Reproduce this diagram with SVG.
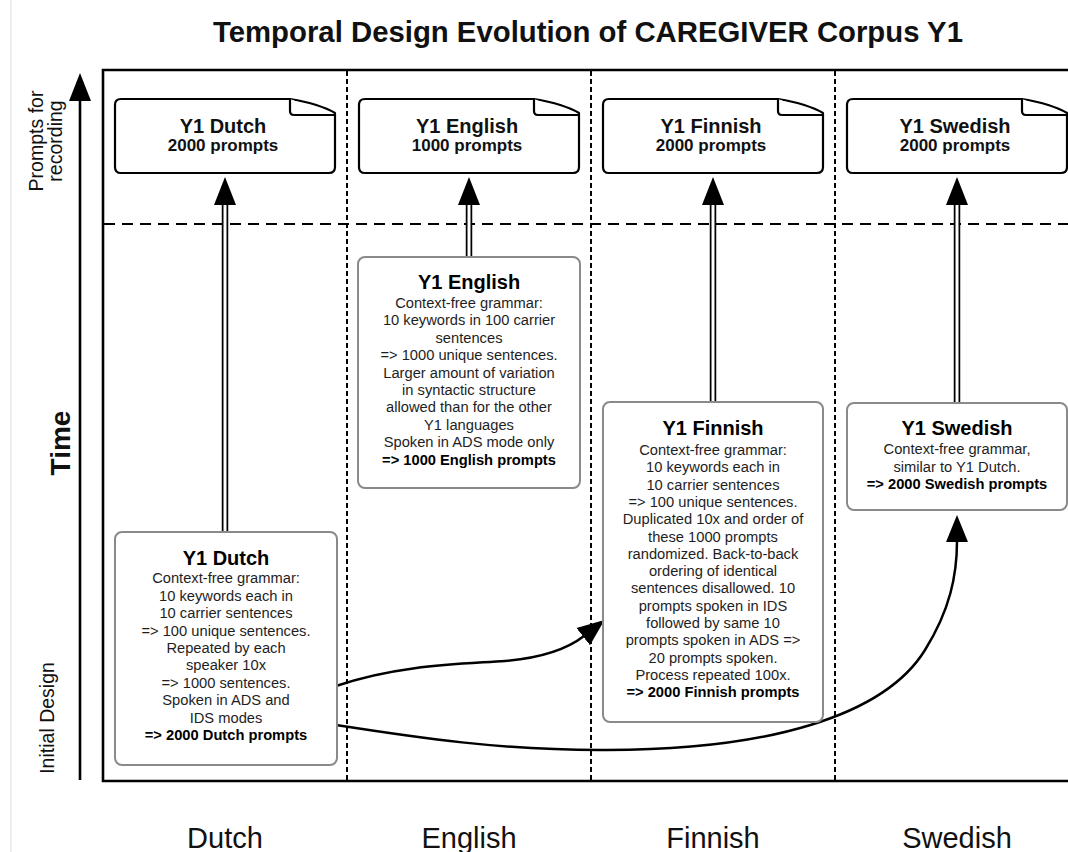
<svg xmlns="http://www.w3.org/2000/svg" width="1068" height="852" viewBox="0 0 1068 852">
<style>
text{font-family:"Liberation Sans",Arial,sans-serif;fill:#111}
.ttl{font-size:29px;font-weight:bold;text-anchor:middle}
.doc{fill:#fff;stroke:#000;stroke-width:2.2;stroke-linejoin:round}
.dt1{font-size:20px;font-weight:bold;text-anchor:middle}
.dt2{font-size:17px;font-weight:bold;text-anchor:middle}
.box{fill:#fff;stroke:#8a8a8a;stroke-width:2}
.bt{font-size:20px;font-weight:bold;text-anchor:middle;fill:#000}
.bb{font-size:14.7px;text-anchor:middle;fill:#1e1e1e}
.bbold{font-weight:bold;fill:#000}
.frame{stroke:#000;stroke-width:2.6;fill:none}
.vd{stroke:#000;stroke-width:2;stroke-dasharray:5 3;fill:none}
.hd{stroke:#000;stroke-width:2;stroke-dasharray:11 7;fill:none}
.sh-o{stroke:#000;stroke-width:6.5}
.sh-i{stroke:#fff;stroke-width:3}
.head{fill:#000}
.crv{fill:none;stroke:#000;stroke-width:2.5}
.ax{font-size:19.5px}
.col{font-size:29px;text-anchor:middle}
</style>
<defs>
<g id="docshape">
<path class="doc" d="M6,0 H175 Q205,5 220,14 V68 Q220,74 214,74 H6 Q0,74 0,68 V6 Q0,0 6,0 Z"/>
<path class="doc" d="M175,0 V12 Q175,16 179,16 H219"/>
</g>
<marker id="ah" markerUnits="userSpaceOnUse" markerWidth="28" markerHeight="24" viewBox="0 0 28 24" refX="1" refY="12" orient="auto">
<path d="M0,1 L27,12 L0,23 Z" fill="#000"/>
</marker>
</defs>
<rect width="1068" height="852" fill="#fff"/>
<line x1="11" y1="0" x2="11" y2="852" stroke="#e2e2e2" stroke-width="1.2"/>

<text class="ttl" x="588" y="42" textLength="750" lengthAdjust="spacingAndGlyphs">Temporal Design Evolution of CAREGIVER Corpus Y1</text>

<g id="grid">
<path class="frame" d="M1068,70 H103 V781 H1068"/>
<line class="vd" x1="347" y1="71" x2="347" y2="780"/>
<line class="vd" x1="591" y1="71" x2="591" y2="780"/>
<line class="vd" x1="835" y1="71" x2="835" y2="780"/>
<line class="hd" x1="104" y1="224" x2="1068" y2="224"/>
</g>

<g id="time-axis">
<line x1="80" y1="98" x2="80" y2="780" stroke="#000" stroke-width="2.6"/>
<polygon points="80,73 69,101 91,101" fill="#000"/>
<text class="ax" transform="translate(43,141) rotate(-90)" text-anchor="middle">Prompts for</text>
<text class="ax" transform="translate(62,141) rotate(-90)" text-anchor="middle">recording</text>
<text transform="translate(70,443) rotate(-90)" text-anchor="middle" style="font-size:28px;font-weight:bold">Time</text>
<text class="ax" transform="translate(54,718) rotate(-90)" text-anchor="middle">Initial Design</text>
</g>

<g id="doc-dutch">
<use href="#docshape" transform="translate(115,99)"/>
<text class="dt1" x="223" y="133">Y1 Dutch</text>
<text class="dt2" x="223" y="151">2000 prompts</text>
</g>
<g id="doc-english">
<use href="#docshape" transform="translate(359,99)"/>
<text class="dt1" x="467" y="133">Y1 English</text>
<text class="dt2" x="467" y="151">1000 prompts</text>
</g>
<g id="doc-finnish">
<use href="#docshape" transform="translate(603,99)"/>
<text class="dt1" x="711" y="133">Y1 Finnish</text>
<text class="dt2" x="711" y="151">2000 prompts</text>
</g>
<g id="doc-swedish">
<use href="#docshape" transform="translate(847,99)"/>
<text class="dt1" x="955" y="133">Y1 Swedish</text>
<text class="dt2" x="955" y="151">2000 prompts</text>
</g>

<g id="connectors">
<line class="sh-o" x1="225" y1="203" x2="225" y2="533"/>
<line class="sh-i" x1="225" y1="203" x2="225" y2="532"/>
<polygon class="head" points="225,177 214,205 236,205"/>
<line class="sh-o" x1="469" y1="203" x2="469" y2="257"/>
<line class="sh-i" x1="469" y1="203" x2="469" y2="256"/>
<polygon class="head" points="469,177 458,205 480,205"/>
<line class="sh-o" x1="713" y1="203" x2="713" y2="402"/>
<line class="sh-i" x1="713" y1="203" x2="713" y2="401"/>
<polygon class="head" points="713,177 702,205 724,205"/>
<line class="sh-o" x1="957" y1="203" x2="957" y2="403"/>
<line class="sh-i" x1="957" y1="203" x2="957" y2="402"/>
<polygon class="head" points="957,177 946,205 968,205"/>
<path class="crv" marker-end="url(#ah)" d="M336,686 C 400,664 465,664 505,661 C 540,658 566,650 584,636"/>
<path class="crv" marker-end="url(#ah)" d="M336,725 C 420,738 500,750 600,750 C 770,751 885,715 925,650 C 950,610 957,575 957,541"/>
</g>

<g id="box-english">
<rect class="box" x="358" y="257" width="222" height="231" rx="7"/>
<text class="bt" x="469" y="289">Y1 English</text>
<text class="bb" x="469" y="308">Context-free grammar:</text>
<text class="bb" x="469" y="325.4">10 keywords in 100 carrier</text>
<text class="bb" x="469" y="342.8">sentences</text>
<text class="bb" x="469" y="360.2">=&gt; 1000 unique sentences.</text>
<text class="bb" x="469" y="377.6">Larger amount of variation</text>
<text class="bb" x="469" y="395">in syntactic structure</text>
<text class="bb" x="469" y="412.4">allowed than for the other</text>
<text class="bb" x="469" y="429.8">Y1 languages</text>
<text class="bb" x="469" y="447.2">Spoken in ADS mode only</text>
<text class="bb bbold" x="469" y="464.6">=&gt; 1000 English prompts</text>
</g>

<g id="box-finnish">
<rect class="box" x="603" y="402" width="220" height="320" rx="7"/>
<text class="bt" x="713" y="435">Y1 Finnish</text>
<text class="bb" x="713" y="455">Context-free grammar:</text>
<text class="bb" x="713" y="472.3">10 keywords each in</text>
<text class="bb" x="713" y="489.6">10 carrier sentences</text>
<text class="bb" x="713" y="506.9">=&gt; 100 unique sentences.</text>
<text class="bb" x="713" y="524.2">Duplicated 10x and order of</text>
<text class="bb" x="713" y="541.5">these 1000 prompts</text>
<text class="bb" x="713" y="558.8">randomized. Back-to-back</text>
<text class="bb" x="713" y="576.1">ordering of identical</text>
<text class="bb" x="713" y="593.4">sentences disallowed. 10</text>
<text class="bb" x="713" y="610.7">prompts spoken in IDS</text>
<text class="bb" x="713" y="628">followed by same 10</text>
<text class="bb" x="713" y="645.3">prompts spoken in ADS =&gt;</text>
<text class="bb" x="713" y="662.6">20 prompts spoken.</text>
<text class="bb" x="713" y="679.9">Process repeated 100x.</text>
<text class="bb bbold" x="713" y="697.2">=&gt; 2000 Finnish prompts</text>
</g>

<g id="box-dutch">
<rect class="box" x="115" y="532" width="222" height="233" rx="7"/>
<text class="bt" x="226" y="565">Y1 Dutch</text>
<text class="bb" x="226" y="583.3">Context-free grammar:</text>
<text class="bb" x="226" y="600.7">10 keywords each in</text>
<text class="bb" x="226" y="618.1">10 carrier sentences</text>
<text class="bb" x="226" y="635.5">=&gt; 100 unique sentences.</text>
<text class="bb" x="226" y="652.9">Repeated by each</text>
<text class="bb" x="226" y="670.3">speaker 10x</text>
<text class="bb" x="226" y="687.7">=&gt; 1000 sentences.</text>
<text class="bb" x="226" y="705.1">Spoken in ADS and</text>
<text class="bb" x="226" y="722.5">IDS modes</text>
<text class="bb bbold" x="226" y="739.9">=&gt; 2000 Dutch prompts</text>
</g>

<g id="box-swedish">
<rect class="box" x="847" y="403" width="220" height="107" rx="7"/>
<text class="bt" x="957" y="435">Y1 Swedish</text>
<text class="bb" x="957" y="454">Context-free grammar,</text>
<text class="bb" x="957" y="471.5">similar to Y1 Dutch.</text>
<text class="bb bbold" x="957" y="489">=&gt; 2000 Swedish prompts</text>
</g>

<g id="column-labels">
<text class="col" x="225" y="848">Dutch</text>
<text class="col" x="469" y="848">English</text>
<text class="col" x="713" y="848">Finnish</text>
<text class="col" x="957" y="848">Swedish</text>
</g>
</svg>
